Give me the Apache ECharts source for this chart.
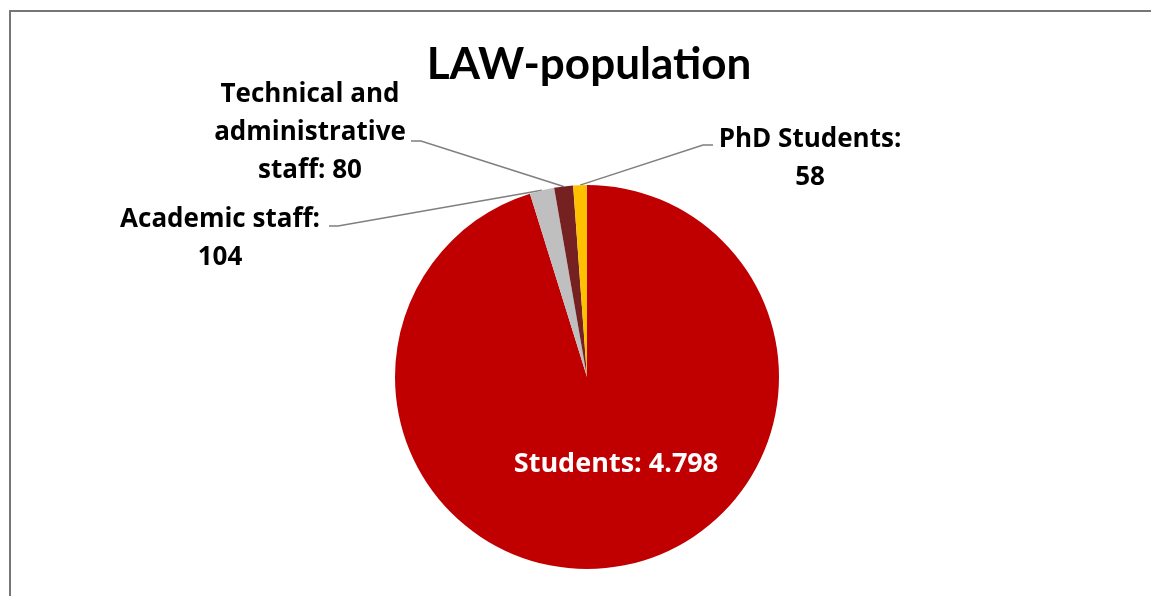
<!DOCTYPE html>
<html>
<head>
<meta charset="utf-8">
<script src="https://cdn.jsdelivr.net/npm/echarts@6/dist/echarts.min.js"></script>
<style>
  html, body { margin: 0; padding: 0; background: #ffffff; }
  #chart { width: 1151px; height: 596px; }
</style>
</head>
<body>
<div id="chart"></div>
<script>
// Population of the LAW faculty
const categories = ['Students', 'Academic staff', 'Technical and administrative staff', 'PhD Students'];
const values = [4798, 104, 80, 58];
const colors = ['#C00000', '#BFBFBF', '#762121', '#FFC000'];
const titleText = 'LAW-population';

// Label text: value with dot as thousands separator
function fmt(v) {
  return String(v).replace(/\B(?=(\d{3})+(?!\d))/g, '.');
}
const labelTexts = [
  'Students: ' + fmt(values[0]),
  'Academic staff:\n' + fmt(values[1]),
  'Technical and\nadministrative\nstaff: ' + fmt(values[2]),
  'PhD Students:\n' + fmt(values[3])
];

// Where each label block sits, and where its leader line bends / ends
const labelSpots = [
  { x: 616, y: 464 },
  { x: 220, y: 239, elbow: [338, 226], end: [329, 226] },
  { x: 310, y: 133, elbow: [421, 141], end: [411, 141] },
  { x: 810, y: 159, elbow: [703, 145], end: [713, 145] }
];

const TITLE_FONT = 'Lato, "Open Sans", sans-serif';
const LABEL_FONT = '"Open Sans", Lato, sans-serif';

const chart = echarts.init(document.getElementById('chart'), null, { renderer: 'canvas' });

const data = categories.map((name, i) => ({
  name: name,
  value: values[i],
  itemStyle: { color: colors[i] },
  label: i === 0
    ? { position: 'inside', color: '#ffffff', fontSize: 27 }
    : { position: 'outside', color: '#000000' },
  labelLine: { show: i !== 0 }
}));

chart.setOption({
  animation: false,
  backgroundColor: '#ffffff',
  graphic: [{
    type: 'rect',
    shape: { x: 10, y: 11, width: 1300, height: 800 },
    style: { fill: 'none', stroke: '#767676', lineWidth: 2 },
    silent: true,
    z: -1
  }],
  title: {
    text: titleText,
    left: 584,
    top: 38,
    textAlign: 'center',
    textStyle: { fontFamily: TITLE_FONT, fontWeight: 'bold', fontSize: 44, color: '#000000' }
  },
  series: [{
    type: 'pie',
    center: [587, 377],
    radius: 192,
    startAngle: 90,
    clockwise: true,
    avoidLabelOverlap: false,
    data: data,
    label: {
      show: true,
      formatter: p => labelTexts[p.dataIndex],
      fontFamily: LABEL_FONT,
      fontWeight: 'bold',
      fontSize: 26,
      lineHeight: 38,
      align: 'center'
    },
    labelLine: {
      show: true,
      length: 20,
      length2: 10,
      smooth: false,
      lineStyle: { color: '#7F7F7F', width: 1.5 }
    },
    labelLayout: function (params) {
      const s = labelSpots[params.dataIndex];
      const out = { x: s.x, y: s.y, align: 'center', verticalAlign: 'middle' };
      if (s.elbow && params.labelLinePoints) {
        out.labelLinePoints = [params.labelLinePoints[0], s.elbow, s.end];
      }
      return out;
    },
    emphasis: { disabled: true }
  }]
});
</script>
</body>
</html>
